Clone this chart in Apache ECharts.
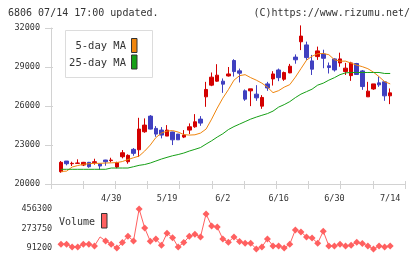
<!DOCTYPE html>
<html><head><meta charset="utf-8">
<script src="https://cdn.jsdelivr.net/npm/echarts@6/dist/echarts.min.js"></script>
<style>html,body{margin:0;padding:0;background:#fff}#c{width:420px;height:259px}</style>
</head><body><div id="c"></div>
<script>
const dates = ['4/16','4/17','4/18','4/21','4/22','4/23','4/24','4/25','4/28','4/30',
  '5/2','5/7','5/8','5/9','5/12','5/13','5/14','5/15','5/16','5/19',
  '5/20','5/21','5/22','5/23','5/26','5/27','5/28','5/29','5/30','6/2',
  '6/3','6/4','6/5','6/6','6/9','6/10','6/11','6/12','6/13','6/16',
  '6/17','6/18','6/19','6/20','6/23','6/24','6/25','6/26','6/27','6/30',
  '7/1','7/2','7/3','7/4','7/7','7/8','7/9','7/10','7/11','7/14'];
const dateLabels = ['4/30','5/19','6/2','6/16','6/30','7/14'];
// [open, close, low, high]
const candles = [
  [20945,21667,20868,21766],[21766,21559,21436,21766],[21560,21590,21382,21713],[21590,21613,21559,21897],
  [21459,21667,21382,21700],[21667,21329,21252,21700],[21640,21713,21482,21943],[21536,21382,21100,21560],
  [21843,21713,21405,21860],[21800,21843,21667,22020],[21306,21636,21206,21713],[22097,22404,21974,22611],
  [21713,22204,21559,22281],[22665,22358,22174,22765],[22634,24224,22074,25092],[24017,24531,23940,25046],
  [25222,24224,24200,25300],[24278,23840,23632,24454],[24147,23763,23509,24378],[23686,24147,23686,24531],
  [24000,23400,22995,24017],[23840,23400,23400,23850],[23610,23763,23532,24147],[24147,24401,23840,24662],
  [24401,24785,24324,25376],[24992,24685,24477,25222],[26705,27273,25937,27857],[27604,28218,27526,28579],
  [27910,28371,27857,29216],[27910,27680,27012,28119],[28311,28464,28264,29000],[29500,28648,28264,29600],
  [28702,28525,27810,28879],[27166,26528,26397,27273],[27166,27319,25990,27319],[26912,26627,26397,27603],
  [25990,26658,25783,26835],[27700,27388,27166,27857],[28083,28464,27573,28679],[28771,28180,27910,28879],
  [28060,28571,27933,28648],[28548,29062,28525,29239],[29762,29555,29254,29969],[30940,31378,30300,32200],
  [30699,29724,29546,30950],[29469,28832,28387,29930],[29800,30238,29546,30568],[30000,29670,28905,30330],
  [29092,28960,28500,29346],[29623,28771,28648,29670],[29316,29623,29020,30100],[28648,28910,28387,29316],
  [28336,29316,27933,29400],[29269,28425,28387,29316],[28700,27496,27243,28771],[26705,27143,26705,27857],
  [27312,27700,27243,27700],[27780,27626,27473,28264],[27857,26782,26397,27857],[26782,27012,26144,27350]
];
const ma5 = [20968,20990,21306,21420,21513,21560,21590,21590,21613,21628,
  21650,21728,21882,22020,22150,22534,22995,23571,23917,24070,
  24110,23994,23802,23763,23786,23917,24224,24992,25837,26605,
  27258,27987,28333,28410,28180,27987,27757,27450,27027,27181,
  27450,27642,28218,28870,29524,29830,30022,30038,29946,29562,
  29450,29450,29296,29142,29027,28870,28602,28257,27873,27700];
const ma25 = [21130,21130,21130,21130,21130,21130,21130,21130,21130,21229,
  21229,21229,21229,21330,21436,21500,21613,21766,21920,22050,
  22173,22266,22381,22534,22665,22803,23072,23325,23610,23863,
  24186,24416,24608,24800,24992,25146,25284,25415,25607,25914,
  26106,26336,26643,26912,27104,27296,27604,27757,27987,28180,
  28410,28548,28579,28579,28579,28579,28579,28579,28502,28502];
const volumes = [128360,128360,103280,103280,128360,128360,112570,196180,159020,128360,
  93990,143220,202680,159020,456300,279790,156230,177600,119070,230550,
  189680,103280,143220,202680,221260,196180,409850,298370,289080,177600,
  146940,196180,152510,137650,137650,84700,103280,177600,112570,112570,
  93990,128360,261210,242630,196180,186890,137650,249130,112570,112570,
  128360,112570,119070,146940,133930,112570,84700,112570,103280,112570];
const priceTicks = [20000,23000,26000,29000,32000];
const volumeTicks = [91200,273750,456300];

const FONT = 'DejaVu Sans Mono';
const AX = '#d2d2d2';
const chart = echarts.init(document.getElementById('c'), null, {renderer:'canvas'});
const volTickIdx = {1:volumeTicks[0],3:volumeTicks[1],5:volumeTicks[2]};
const rect = {left:51, top:28, width:354, height:156};
const inner = {left:58.2, top:28, width:334.8, height:156};
chart.setOption({
  animation:false,
  backgroundColor:'#fff',
  title:[
    {text:'6806 07/14 17:00 updated.', left:8, top:8, padding:0, textStyle:{fontSize:10, fontWeight:'normal', fontFamily:FONT, color:'#333'}},
    {text:'(C)https://www.rizumu.net/', right:10, top:8, padding:0, textStyle:{fontSize:10, fontWeight:'normal', fontFamily:FONT, color:'#333'}}
  ],
  grid:[
    Object.assign({}, rect),
    Object.assign({}, rect),
    Object.assign({}, inner),
    {left:58.2, top:209, width:334.8, height:49}
  ],
  xAxis:[
    {gridIndex:0, type:'value', min:0, max:11, interval:1, axisLine:{show:true, lineStyle:{color:AX}}, axisTick:{show:false}, axisLabel:{show:false}, splitLine:{show:false}},
    {gridIndex:1, type:'value', min:0, max:11, interval:1, position:'bottom', offset:-3, axisLine:{show:false}, axisTick:{show:true, length:8, lineStyle:{color:AX}}, axisLabel:{show:false}, splitLine:{show:false}},
    {gridIndex:2, type:'category', data:dates, boundaryGap:true, axisLine:{show:false}, axisTick:{show:false}, splitLine:{show:false},
      axisLabel:{interval:0, margin:10, fontSize:8.5, fontFamily:FONT, color:'#333', formatter:v => dateLabels.includes(v) ? v : ''}},
    {gridIndex:3, type:'category', data:dates, boundaryGap:true, show:false}
  ],
  yAxis:[
    {gridIndex:0, type:'value', min:priceTicks[0], max:priceTicks[priceTicks.length-1], interval:priceTicks[1]-priceTicks[0],
      axisLine:{show:true, lineStyle:{color:AX}}, axisTick:{show:false}, splitLine:{show:false},
      axisLabel:{margin:11, fontSize:8.5, fontFamily:FONT, color:'#333', formatter:v => String(v)}},
    {gridIndex:1, type:'value', min:priceTicks[0], max:priceTicks[priceTicks.length-1], interval:priceTicks[1]-priceTicks[0], offset:-2,
      axisLine:{show:false}, axisTick:{show:true, length:8, lineStyle:{color:AX}}, axisLabel:{show:false}, splitLine:{show:false}},
    {gridIndex:2, type:'value', min:priceTicks[0], max:priceTicks[priceTicks.length-1], show:false, splitLine:{show:false}},
    {gridIndex:3, type:'value', min:0, max:volumeTicks[2], interval:volumeTicks[2]/5,
      axisLine:{show:false}, axisTick:{show:false}, splitLine:{show:false},
      axisLabel:{margin:6, fontSize:8.5, fontFamily:FONT, color:'#333', formatter:(v, i) => volTickIdx[i] !== undefined ? String(volTickIdx[i]) : ''}}
  ],
  series:[
    {type:'candlestick', xAxisIndex:2, yAxisIndex:2, data:candles, barWidth:4,
      itemStyle:{color:'#d40000', color0:'#4040c0', borderColor:'#d40000', borderColor0:'#4040c0', borderWidth:1}},
    {type:'line', xAxisIndex:2, yAxisIndex:2, data:ma5, symbol:'none', z:3, lineStyle:{color:'#f0860e', width:1}},
    {type:'line', xAxisIndex:2, yAxisIndex:2, data:ma25, symbol:'none', z:3, lineStyle:{color:'#16a016', width:1}},
    {type:'line', xAxisIndex:3, yAxisIndex:3, symbol:'diamond', symbolSize:7, showSymbol:true, showAllSymbol:true,
      data:volumes.map((v, i) => i === 7 ? {value:v, symbol:'none'} : v),
      itemStyle:{color:'#ff6060'}, lineStyle:{color:'#ff6060', width:1}}
  ],
  graphic:[
    {type:'rect', shape:{x:65.5, y:30.5, width:87, height:47}, style:{fill:'#fff', stroke:'#dcdcdc', lineWidth:1}, z:10},
    {type:'text', x:126, y:46, style:{text:'5-day MA', font:'10.5px "DejaVu Sans Mono"', fill:'#333', align:'right', verticalAlign:'middle'}, z:11},
    {type:'rect', shape:{x:131.5, y:38.5, width:5.5, height:14}, style:{fill:'#f0860e', stroke:'#333', lineWidth:1}, z:11},
    {type:'text', x:126, y:63.3, style:{text:'25-day MA', font:'10.5px "DejaVu Sans Mono"', fill:'#333', align:'right', verticalAlign:'middle'}, z:11},
    {type:'rect', shape:{x:131.5, y:55, width:5.5, height:14}, style:{fill:'#16a016', stroke:'#333', lineWidth:1}, z:11},
    {type:'text', x:59, y:222.3, style:{text:'Volume', font:'10px "DejaVu Sans Mono"', fill:'#333', align:'left', verticalAlign:'middle'}, z:11},
    {type:'rect', shape:{x:101.5, y:213.5, width:5.5, height:14.5}, style:{fill:'#ff6060', stroke:'#333', lineWidth:1}, z:11}
  ]
});
</script></body></html>
